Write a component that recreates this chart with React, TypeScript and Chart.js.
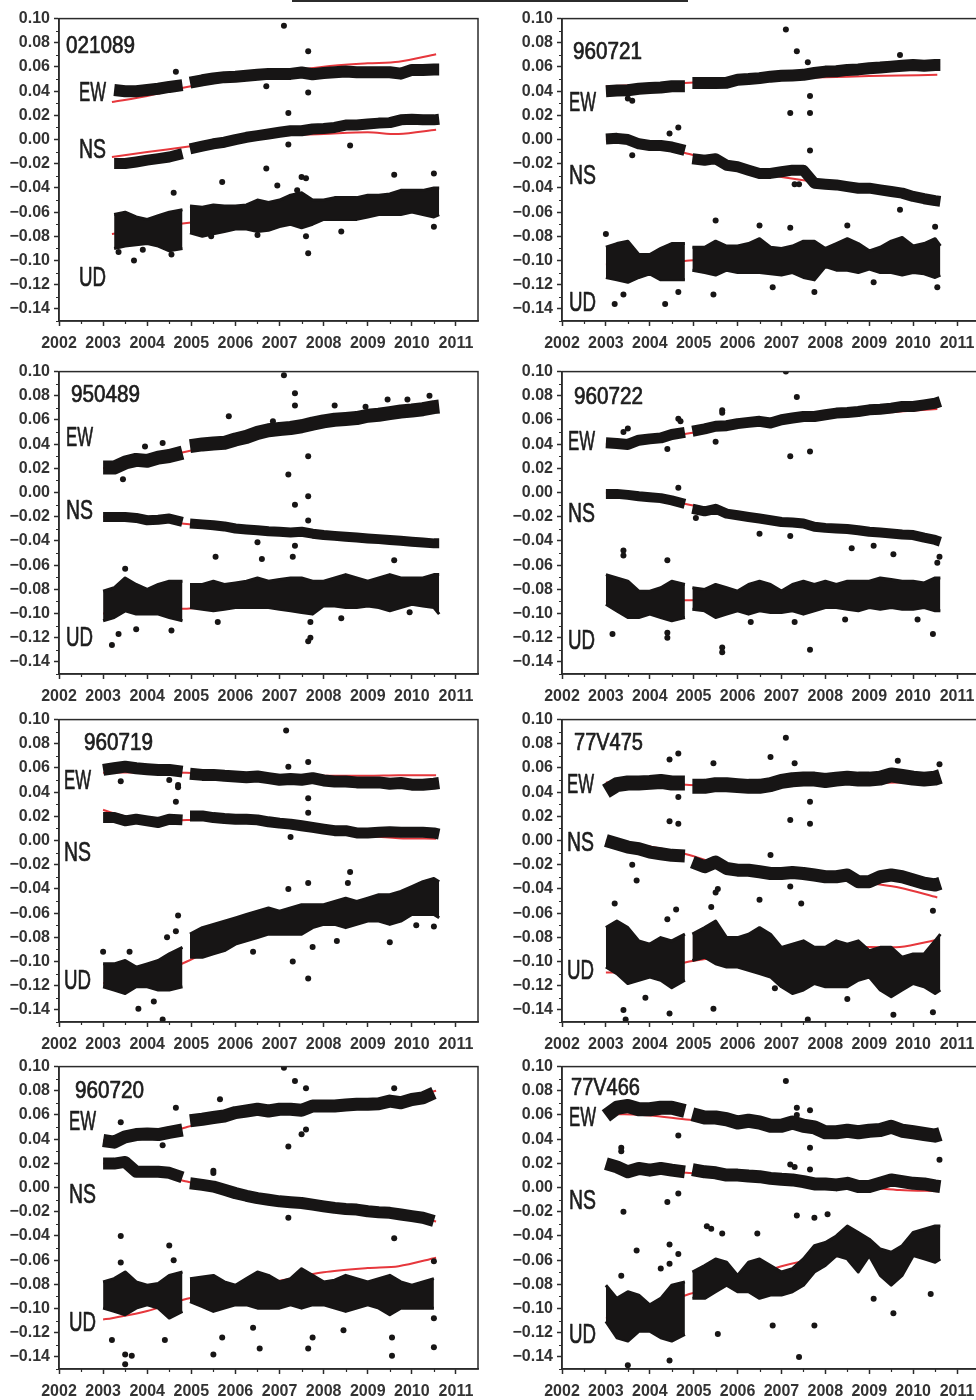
import React, { useEffect, useRef } from 'react';
import { Chart, registerables } from 'chart.js';

Chart.register(...registerables);

// ---------- shared sampling times (decimal years) ----------
const PRE_T = [2003.0, 2003.25, 2003.5, 2003.75, 2004.0, 2004.25, 2004.5, 2004.8];
const POST_T = [2004.97, 2005.25, 2005.5, 2005.75, 2006.0, 2006.25, 2006.5, 2006.75, 2007.0, 2007.25, 2007.5, 2007.75,
  2008.0, 2008.25, 2008.5, 2008.75, 2009.0, 2009.25, 2009.5, 2009.75, 2010.0, 2010.25, 2010.5, 2010.62];
const GAP_T = 2004.885;
const MODEL_T = [2003.0, 2003.2, 2004.0, 2004.9, 2006.0, 2007.0, 2008.0, 2009.0, 2009.7, 2010.55];
const X_TICKS = [2002, 2003, 2004, 2005, 2006, 2007, 2008, 2009, 2010, 2011];
const Y_TICKS = [-0.14, -0.12, -0.10, -0.08, -0.06, -0.04, -0.02, 0.0, 0.02, 0.04, 0.06, 0.08, 0.10];

// ---------- 021089 ----------
const P1_NAME = '021089';
const P1_EW = [null, .041, .040, .040, .041, .042, .0435, .045, .047, .049, .0505, .0516, .052, .0527, .0535, .0543, .0543, .0543, .0554, .054, .055, .0557, .0562, .0557, .0557, .0557, .0557, .0545, .0576, .0576, .058, .058];
const P1_NS = [null, -.0198, -.0198, -.0185, -.017, -.0158, -.0144, -.0117, -.0076, -.0054, -.0035, -.0022, 0, .0019, .0033, .0046, .006, .0073, .0073, .0087, .0092, .010, .012, .012, .0128, .0136, .014, .0163, .0168, .0163, .0163, .0168];
const P1_UD_HI = [null, -.062, -.060, -.064, -.066, -.063, -.060, -.058, -.055, -.056, -.054, -.055, -.055, -.054, -.050, -.052, -.050, -.046, -.044, -.050, -.050, -.048, -.048, -.048, -.046, -.046, -.045, -.042, -.042, -.042, -.040, -.040];
const P1_UD_LO = [null, -.090, -.088, -.087, -.086, -.088, -.092, -.090, -.077, -.080, -.078, -.076, -.074, -.074, -.076, -.075, -.072, -.070, -.073, -.070, -.066, -.066, -.066, -.066, -.064, -.062, -.062, -.062, -.060, -.062, -.064, -.062];
const P1_M_EW = [null, .031, .036, .0435, .0495, .0554, .0603, .063, .0644, .0706];
const P1_M_NS = [null, -.0144, -.0103, -.006, -.0008, .0033, .0046, .006, .0046, .0082];
const P1_M_UD = [null, -.078, -.074, -.069, -.065, -.060, -.057, -.053, -.051, -.048];
const P1_OUT = [[2007.1, .094], [2007.65, .073], [2007.65, .039], [2006.7, .044], [2007.2, .022], [2007.2, -.004], [2008.6, -.005], [2006.7, -.024], [2005.7, -.035], [2004.6, -.044], [2007.65, -.094], [2003.7, -.100], [2007.6, -.080], [2010.5, -.072], [2010.5, -.028], [2009.6, -.029], [2003.9, -.091], [2008.4, -.076], [2004.55, -.095], [2003.35, -.093], [2006.95, -.038], [2007.4, -.042], [2007.5, -.031], [2007.6, -.032], [2004.65, .056], [2005.45, -.080], [2006.5, -.079]];

// ---------- 960721 ----------
const P2_NAME = '960721';
const P2_EW = [.040, .0405, .0408, .042, .0427, .043, .044, .044, .0467, .0467, .0467, .047, .0495, .050, .0508, .052, .0527, .053, .0535, .055, .0562, .0565, .0576, .058, .059, .0595, .0603, .061, .0617, .061, .0617, .0617];
const P2_NS = [.0005, .001, 0, -.0035, -.0049, -.0049, -.0062, -.009, -.0158, -.0171, -.0158, -.0212, -.0225, -.0253, -.028, -.028, -.0266, -.0253, -.0253, -.0361, -.0369, -.0375, -.0389, -.0402, -.0402, -.0416, -.0429, -.0443, -.047, -.0489, -.0505, -.0511];
const P2_UD_HI = [-.089, -.086, -.084, -.095, -.095, -.090, -.086, -.086, -.089, -.089, -.084, -.088, -.088, -.086, -.082, -.089, -.090, -.088, -.084, -.084, -.090, -.086, -.082, -.086, -.092, -.089, -.084, -.081, -.088, -.086, -.082, -.088];
const P2_UD_LO = [-.114, -.116, -.118, -.114, -.111, -.116, -.116, -.116, -.108, -.110, -.112, -.108, -.110, -.110, -.110, -.111, -.112, -.110, -.114, -.116, -.105, -.108, -.108, -.110, -.107, -.110, -.110, -.112, -.110, -.111, -.114, -.112];
const P2_M_EW = [.044, .0443, .0455, .047, .049, .0505, .0515, .0525, .053, .0535];
const P2_M_NS = [0, -.0005, -.004, -.012, -.023, -.031, -.036, -.041, -.0445, -.050];
const P2_M_UD = [-.103, -.1032, -.104, -.100, -.097, -.095, -.094, -.093, -.091, -.087];
const P2_OUT = [[2007.1, .091], [2007.35, .073], [2007.6, .064], [2007.65, .036], [2007.2, .022], [2007.65, .022], [2007.65, -.009], [2003.6, .032], [2003.5, .034], [2004.65, .010], [2004.45, .005], [2003.6, -.013], [2009.7, .070], [2009.7, -.058], [2005.5, -.067], [2006.5, -.071], [2007.2, -.073], [2003.0, -.078], [2003.2, -.136], [2004.35, -.136], [2005.45, -.128], [2009.1, -.118], [2010.5, -.072], [2010.55, -.122], [2007.75, -.126], [2006.8, -.122], [2003.4, -.128], [2004.65, -.126], [2008.5, -.071], [2007.4, -.037], [2007.3, -.037]];

// ---------- 950489 ----------
const P3_NAME = '950489';
const P3_EW = [.0207, .0207, .0248, .027, .0262, .0289, .0302, .033, .0384, .0398, .0406, .0411, .0439, .046, .0493, .0515, .0526, .0534, .0548, .057, .0589, .0602, .0608, .0616, .0635, .0643, .0657, .067, .0678, .0689, .0706, .0711];
const P3_NS = [-.0202, -.0202, -.0202, -.021, -.0229, -.0225, -.0215, -.0243, -.0256, -.0263, -.027, -.028, -.0297, -.0305, -.0311, -.032, -.0324, -.033, -.0324, -.034, -.0351, -.0358, -.0365, -.0372, -.0379, -.0385, -.0392, -.0398, -.0406, -.0413, -.042, -.042];
const P3_UD_HI = [-.0815, -.0787, -.0706, -.076, -.0801, -.076, -.0733, -.0733, -.076, -.076, -.0733, -.076, -.0747, -.0733, -.0706, -.0733, -.0719, -.0706, -.0706, -.0733, -.0733, -.0706, -.0678, -.0706, -.0733, -.0706, -.0678, -.0706, -.0706, -.0706, -.0678, -.0678];
const P3_UD_LO = [-.106, -.1033, -.0978, -.1005, -.1005, -.1005, -.1033, -.106, -.0951, -.0965, -.0978, -.0965, -.0951, -.0951, -.0951, -.0951, -.0965, -.0978, -.0992, -.1005, -.0937, -.0937, -.0951, -.0951, -.0937, -.0951, -.0978, -.0951, -.0924, -.0937, -.0951, -.1005];
const P3_M_EW = [.020, .0215, .027, .034, .043, .051, .058, .063, .0665, .071];
const P3_M_NS = [-.020, -.0203, -.022, -.026, -.030, -.033, -.036, -.038, -.040, -.043];
const P3_M_UD = [-.100, -.0993, -.096, -.096, -.093, -.091, -.089, -.086, -.084, -.082];
const P3_OUT = [[2007.1, .097], [2007.35, .082], [2007.35, .072], [2007.2, .015], [2007.65, .030], [2007.35, -.010], [2007.65, -.003], [2007.65, -.023], [2005.85, .063], [2006.85, .059], [2009.45, .077], [2010.4, .080], [2003.45, .011], [2004.35, .041], [2003.95, .038], [2003.2, -.126], [2003.35, -.117], [2003.75, -.113], [2007.65, -.123], [2007.7, -.120], [2007.7, -.107], [2004.55, -.114], [2005.55, -.053], [2006.6, -.055], [2007.3, -.053], [2009.6, -.056], [2005.6, -.107], [2008.4, -.104], [2009.95, -.099], [2003.5, -.063], [2007.35, -.044], [2006.5, -.041], [2008.25, .072], [2008.95, .071], [2009.9, .077]];

// ---------- 960722 ----------
const P4_NAME = '960722';
const P4_EW = [.0411, .0406, .0398, .0433, .0444, .0452, .048, .0498, .0507, .0526, .0548, .0553, .057, .058, .0589, .0575, .0602, .0616, .0629, .0629, .0643, .0657, .0662, .067, .0684, .0689, .0698, .0711, .0711, .0725, .0738, .0752];
const P4_NS = [-.0011, -.0011, -.0019, -.003, -.0038, -.0046, -.0065, -.0093, -.0134, -.0155, -.0134, -.0174, -.0188, -.0202, -.0215, -.0229, -.0243, -.0248, -.0256, -.0283, -.0292, -.0297, -.0302, -.0311, -.0324, -.033, -.0338, -.0346, -.0351, -.0373, -.0392, -.0406];
const P4_UD_HI = [-.0678, -.0706, -.0733, -.0815, -.0815, -.0787, -.0733, -.076, -.0787, -.0801, -.076, -.0787, -.0815, -.076, -.0733, -.076, -.0815, -.076, -.0733, -.076, -.0733, -.076, -.0733, -.0733, -.0733, -.0706, -.0719, -.0733, -.0733, -.0747, -.0706, -.0706];
const P4_UD_LO = [-.0924, -.0978, -.1033, -.1033, -.1005, -.1033, -.106, -.1033, -.0965, -.0978, -.1033, -.1005, -.0978, -.1005, -.0978, -.0992, -.0992, -.0978, -.1005, -.0978, -.0951, -.0951, -.0965, -.0978, -.0951, -.0965, -.0951, -.0965, -.0965, -.0951, -.0978, -.0978];
const P4_M_EW = [.040, .0405, .044, .049, .056, .059, .063, .065, .067, .069];
const P4_M_NS = [0, -.0005, -.004, -.010, -.019, -.025, -.029, -.032, -.033, -.038];
const P4_M_UD = [-.090, -.0898, -.089, -.089, -.088, -.086, -.085, -.084, -.083, -.082];
const P4_OUT = [[2007.1, .100], [2007.35, .079], [2004.65, .061], [2004.7, .059], [2005.65, .066], [2005.65, .068], [2005.5, .042], [2003.5, .053], [2003.4, .050], [2004.4, .036], [2007.2, .030], [2007.65, .034], [2004.65, .004], [2005.05, -.021], [2006.5, -.034], [2007.2, -.036], [2008.6, -.046], [2009.1, -.044], [2009.55, -.051], [2010.6, -.053], [2010.55, -.058], [2003.4, -.048], [2003.4, -.052], [2004.4, -.056], [2004.4, -.116], [2004.4, -.120], [2003.15, -.117], [2005.65, -.128], [2005.65, -.132], [2007.65, -.130], [2010.45, -.117], [2010.1, -.105], [2008.45, -.105], [2006.3, -.107], [2007.3, -.107]];

// ---------- 960719 ----------
const P5_NAME = '960719';
const P5_EW = [.0584, .0598, .0611, .0598, .059, .0584, .0584, .057, .0552, .0543, .0543, .0535, .053, .0524, .053, .0516, .0503, .0508, .0503, .0516, .0497, .0489, .0489, .0481, .0481, .0481, .047, .0476, .0462, .0462, .047, .0476];
const P5_NS = [.019, .019, .0163, .0177, .0163, .0149, .0177, .0171, .0204, .0204, .019, .0182, .0177, .0177, .0171, .0155, .0144, .0136, .0122, .0109, .0095, .0082, .0082, .0063, .0063, .0068, .0073, .0068, .0068, .0068, .0063, .0054];
const P5_UD_HI = [-.1019, -.1019, -.0992, -.1046, -.1019, -.0992, -.0937, -.0883, -.0774, -.072, -.0693, -.0666, -.0639, -.0611, -.0584, -.0557, -.0584, -.0557, -.053, -.053, -.053, -.0503, -.0476, -.0503, -.0476, -.0448, -.0448, -.0421, -.038, -.034, -.0313, -.034];
const P5_UD_LO = [-.1209, -.1236, -.1264, -.1209, -.1209, -.1236, -.1236, -.1209, -.0965, -.0965, -.0937, -.091, -.0856, -.0829, -.0802, -.0774, -.0774, -.0774, -.0774, -.072, -.0693, -.0693, -.072, -.0693, -.0666, -.0666, -.0693, -.0666, -.0611, -.0611, -.0611, -.0639];
const P5_M_EW = [.056, .0562, .0565, .056, .054, .053, .0535, .0535, .054, .054];
const P5_M_NS = [.0255, .023, .016, .017, .0175, .013, .008, .004, .002, .0015];
const P5_M_UD = [-.118, -.117, -.113, -.100, -.080, -.070, -.060, -.054, -.050, -.045];
const P5_OUT = [[2007.15, .091], [2007.65, .065], [2007.2, .061], [2007.65, .035], [2007.65, .023], [2004.65, .032], [2004.7, .046], [2004.7, .044], [2004.5, .050], [2003.4, .049], [2007.25, .003], [2007.65, -.035], [2008.6, -.026], [2007.2, -.040], [2008.55, -.035], [2004.7, -.062], [2004.65, -.075], [2004.45, -.080], [2003.0, -.092], [2003.6, -.092], [2003.8, -.139], [2004.35, -.148], [2004.15, -.133], [2007.3, -.100], [2007.65, -.114], [2007.75, -.088], [2009.5, -.084], [2010.5, -.071], [2010.1, -.070], [2008.3, -.083], [2006.4, -.092]];

// ---------- 77V475 ----------
const P6_NAME = '77V475';
const P6_EW = [.0408, .0462, .0476, .0476, .0481, .0489, .0476, .0476, .0448, .0448, .0462, .0462, .0454, .0448, .0448, .0462, .0489, .0503, .0508, .0508, .0497, .0508, .0516, .0508, .0508, .0516, .0543, .053, .0516, .0508, .0516, .053];
const P6_NS = [0, -.0027, -.0054, -.0068, -.0095, -.0109, -.0122, -.0128, -.0177, -.0217, -.0177, -.0231, -.0245, -.0245, -.0258, -.0272, -.0272, -.0264, -.0272, -.0285, -.0299, -.0299, -.0285, -.034, -.034, -.0299, -.0285, -.0299, -.0326, -.0353, -.0367, -.0353];
const P6_UD_HI = [-.072, -.0666, -.072, -.0829, -.0856, -.0802, -.0829, -.0774, -.0774, -.072, -.0666, -.0802, -.0802, -.0774, -.072, -.0774, -.0883, -.0856, -.0829, -.0883, -.0883, -.0829, -.0856, -.0829, -.091, -.0883, -.0883, -.0965, -.0937, -.0937, -.0829, -.0774];
const P6_UD_LO = [-.1046, -.110, -.1182, -.1155, -.1128, -.1155, -.1217, -.1155, -.0992, -.0965, -.1019, -.1046, -.1046, -.1073, -.110, -.1128, -.1209, -.1264, -.1236, -.1182, -.1209, -.1209, -.1209, -.1155, -.1128, -.1236, -.1291, -.1236, -.1182, -.1209, -.1264, -.1236];
const P6_M_EW = [.048, .048, .048, .046, .045, .046, .047, .0475, .048, .049];
const P6_M_NS = [0, -.001, -.005, -.012, -.024, -.027, -.029, -.035, -.039, -.047];
const P6_M_UD = [-.109, -.109, -.108, -.100, -.095, -.091, -.089, -.088, -.088, -.082];
const P6_OUT = [[2007.1, .085], [2006.75, .069], [2004.65, .072], [2004.45, .067], [2005.45, .064], [2007.3, .064], [2009.65, .066], [2010.6, .063], [2004.45, .016], [2004.65, .014], [2004.65, .036], [2007.2, .017], [2007.65, .032], [2007.65, .014], [2006.75, -.012], [2003.7, -.033], [2003.6, -.020], [2007.2, -.038], [2007.45, -.052], [2005.55, -.040], [2005.5, -.043], [2003.2, -.052], [2004.4, -.065], [2004.6, -.057], [2005.4, -.055], [2006.5, -.049], [2010.45, -.058], [2003.4, -.140], [2003.45, -.148], [2004.45, -.143], [2005.45, -.139], [2007.6, -.148], [2009.55, -.144], [2010.45, -.142], [2003.9, -.130], [2006.85, -.122], [2008.5, -.131]];

// ---------- 960720 ----------
const P7_NAME = '960720';
const P7_EW = [.0389, .0375, .042, .0438, .0443, .0438, .0457, .0476, .0552, .0565, .0579, .0592, .062, .0633, .0647, .0633, .0647, .0647, .0639, .0674, .0674, .0674, .0682, .0688, .0688, .0693, .0715, .0701, .0728, .0742, .0783, null];
const P7_NS = [.0198, .0198, .0212, .013, .013, .013, .0122, .0084, .0035, .0022, .0008, -.0019, -.0046, -.0068, -.0087, -.0101, -.0114, -.0122, -.0128, -.0141, -.0155, -.0168, -.0177, -.0182, -.0196, -.0204, -.0209, -.0223, -.0236, -.025, -.0277, null];
const P7_UD_HI = [-.078, -.0753, -.0698, -.078, -.0807, -.0793, -.0726, -.0698, -.0753, -.0739, -.0726, -.078, -.0807, -.0753, -.0698, -.0726, -.078, -.0753, -.0671, -.0726, -.078, -.0766, -.0726, -.0753, -.078, -.0753, -.0726, -.078, -.0807, -.078, -.0753, null];
const P7_UD_LO = [-.0997, -.1024, -.1052, -.0997, -.097, -.0997, -.1079, -.1024, -.0943, -.0984, -.1024, -.0997, -.097, -.097, -.0997, -.0997, -.0997, -.097, -.0997, -.097, -.097, -.0997, -.1024, -.0997, -.097, -.0997, -.1052, -.0997, -.0997, -.0997, -.0997, null];
const P7_M_EW = [.039, .0395, .042, .050, .062, .066, .0685, .071, .072, .080];
const P7_M_NS = [.020, .019, .013, .005, -.005, -.012, -.016, -.020, -.022, -.028];
const P7_M_UD = [-.109, -.108, -.102, -.092, -.084, -.077, -.070, -.0665, -.065, -.058];
const P7_OUT = [[2007.1, .099], [2007.35, .088], [2007.6, .082], [2009.6, .082], [2005.65, .073], [2007.2, .034], [2007.5, .044], [2007.6, .048], [2004.65, .066], [2003.4, .054], [2004.35, .035], [2005.5, .012], [2005.5, .014], [2009.6, -.042], [2007.2, -.025], [2003.4, -.040], [2003.4, -.062], [2004.5, -.048], [2004.6, -.060], [2004.4, -.126], [2003.2, -.126], [2003.5, -.138], [2003.65, -.139], [2003.5, -.146], [2005.5, -.138], [2005.7, -.124], [2006.55, -.133], [2007.65, -.133], [2007.75, -.124], [2009.55, -.139], [2010.5, -.132], [2010.5, -.108], [2008.45, -.118], [2009.55, -.124], [2010.5, -.061], [2006.4, -.116]];

// ---------- 77V466 ----------
const P8_NAME = '77V466';
const P8_EW = [.0592, .066, .0674, .0647, .0647, .066, .066, .0633, .0606, .0579, .0579, .0565, .0538, .0552, .0538, .0511, .0511, .0538, .0511, .0497, .0457, .0457, .047, .0457, .047, .0476, .0503, .047, .0457, .0443, .0429, .0443];
const P8_NS = [.0198, .0171, .013, .0158, .0144, .0158, .0144, .013, .0149, .013, .0122, .0103, .0103, .0095, .009, .0076, .0068, .0063, .0049, .003, .003, .0022, .0035, .0008, .0008, .0035, .0063, .0049, .0035, .003, .0014, .0008];
const P8_UD_HI = [-.0807, -.0916, -.0861, -.0889, -.097, -.0916, -.0807, -.078, -.0698, -.0644, -.059, -.0617, -.0726, -.0617, -.059, -.0644, -.0698, -.0671, -.059, -.0481, -.0454, -.040, -.0318, -.0372, -.0427, -.0508, -.0535, -.0481, -.0372, -.0345, -.0318, -.0318];
const P8_UD_LO = [-.1106, -.1242, -.1269, -.1188, -.1188, -.1242, -.1269, -.1215, -.0916, -.0916, -.0861, -.0807, -.0861, -.0861, -.0916, -.0889, -.0889, -.0861, -.0807, -.0698, -.0644, -.0563, -.059, -.0698, -.0563, -.0726, -.0807, -.0726, -.0563, -.059, -.0617, -.059];
const P8_M_EW = [.061, .0608, .0595, .056, .053, .051, .048, .0465, .0455, .043];
const P8_M_NS = [.018, .017, .014, .012, .009, .006, .002, 0, -.002, -.003];
const P8_M_UD = [-.108, -.107, -.100, -.088, -.078, -.065, -.058, -.055, -.058, -.047];
const P8_OUT = [[2007.1, .088], [2007.35, .066], [2007.35, .060], [2007.65, .064], [2003.35, .033], [2003.35, .030], [2004.65, .043], [2007.65, .033], [2007.2, .019], [2007.3, .017], [2007.65, .015], [2004.4, -.012], [2004.65, -.005], [2003.4, -.020], [2010.6, .023], [2005.3, -.032], [2005.4, -.034], [2005.65, -.038], [2006.45, -.038], [2003.7, -.052], [2004.45, -.047], [2004.65, -.055], [2004.25, -.067], [2003.35, -.073], [2004.45, -.063], [2007.4, -.140], [2007.75, -.114], [2003.5, -.147], [2004.45, -.143], [2005.55, -.121], [2006.8, -.114], [2009.1, -.092], [2009.55, -.104], [2010.4, -.088], [2007.35, -.023], [2008.05, -.022], [2007.75, -.025]];

const PANELS = [
  { name: P1_NAME, ew: P1_EW, ns: P1_NS, udHi: P1_UD_HI, udLo: P1_UD_LO, mEw: P1_M_EW, mNs: P1_M_NS, mUd: P1_M_UD, out: P1_OUT },
  { name: P2_NAME, ew: P2_EW, ns: P2_NS, udHi: P2_UD_HI, udLo: P2_UD_LO, mEw: P2_M_EW, mNs: P2_M_NS, mUd: P2_M_UD, out: P2_OUT },
  { name: P3_NAME, ew: P3_EW, ns: P3_NS, udHi: P3_UD_HI, udLo: P3_UD_LO, mEw: P3_M_EW, mNs: P3_M_NS, mUd: P3_M_UD, out: P3_OUT },
  { name: P4_NAME, ew: P4_EW, ns: P4_NS, udHi: P4_UD_HI, udLo: P4_UD_LO, mEw: P4_M_EW, mNs: P4_M_NS, mUd: P4_M_UD, out: P4_OUT },
  { name: P5_NAME, ew: P5_EW, ns: P5_NS, udHi: P5_UD_HI, udLo: P5_UD_LO, mEw: P5_M_EW, mNs: P5_M_NS, mUd: P5_M_UD, out: P5_OUT },
  { name: P6_NAME, ew: P6_EW, ns: P6_NS, udHi: P6_UD_HI, udLo: P6_UD_LO, mEw: P6_M_EW, mNs: P6_M_NS, mUd: P6_M_UD, out: P6_OUT },
  { name: P7_NAME, ew: P7_EW, ns: P7_NS, udHi: P7_UD_HI, udLo: P7_UD_LO, mEw: P7_M_EW, mNs: P7_M_NS, mUd: P7_M_UD, out: P7_OUT },
  { name: P8_NAME, ew: P8_EW, ns: P8_NS, udHi: P8_UD_HI, udLo: P8_UD_LO, mEw: P8_M_EW, mNs: P8_M_NS, mUd: P8_M_UD, out: P8_OUT },
];

// ---------- layout / style (not data) ----------
const ROW_TOPS = [5, 358, 706, 1053];
const COLS = [
  { left: 0, width: 486, padRight: 8 },
  { left: 503, width: 482, padRight: 6 },
];
const BAND_WIDTHS = [[12, 11], [12, 11], [14, 10], [11, 10], [12, 11], [15, 13], [13, 12], [14, 13]];
// label offsets [dx, dy] from top-left of the plot area (baseline)
const LABEL_POS = [
  { st: [7, 34], ew: [20, 82], ns: [20, 139], ud: [20, 267] },
  { st: [11, 40], ew: [7, 92], ns: [7, 165], ud: [7, 292] },
  { st: [12, 30], ew: [7, 74], ns: [7, 147], ud: [7, 274] },
  { st: [12, 32], ew: [6, 78], ns: [6, 150], ud: [6, 277] },
  { st: [25, 30], ew: [5, 69], ns: [5, 141], ud: [5, 269] },
  { st: [12, 30], ew: [5, 73], ns: [5, 131], ud: [5, 259] },
  { st: [16, 31], ew: [10, 63], ns: [10, 136], ud: [10, 264] },
  { st: [9, 28], ew: [7, 59], ns: [7, 142], ud: [7, 276] },
];
const BLACK = '#171515';
const RED = '#e6373c';
const AXIS = '#2b2b2b';
const TEXT = '#1d1d1d';
const TICK_TEXT = '#333333';
const FONT = '"Liberation Sans", Arial, sans-serif';

function series(vals: (number | null)[]) {
  const pre = PRE_T.map((t, i) => ({ x: t, y: vals[i] }));
  const post = POST_T.map((t, i) => ({ x: t, y: vals[PRE_T.length + i] }));
  return [...pre, { x: GAP_T, y: null }, ...post];
}
function modelSeries(vals: (number | null)[]) {
  return MODEL_T.map((t, i) => ({ x: t, y: vals[i] }));
}

const framePlugin = {
  id: 'frameAndMinor',
  afterDraw(chart: any) {
    const { ctx, chartArea: a, scales } = chart;
    ctx.save();
    ctx.strokeStyle = AXIS;
    ctx.lineWidth = 1.5;
    ctx.strokeRect(a.left, a.top, a.right - a.left, a.bottom - a.top);
    ctx.lineWidth = 1.2;
    ctx.beginPath();
    for (let i = -15; i <= 9; i += 2) {
      const y = Math.round(scales.y.getPixelForValue(i / 100)) + 0.5;
      ctx.moveTo(a.left, y);
      ctx.lineTo(a.left - 3, y);
    }
    for (let yr = 2002; yr <= 2010; yr++) {
      const x = Math.round(scales.x.getPixelForValue(yr + 0.5)) + 0.5;
      ctx.moveTo(x, a.bottom);
      ctx.lineTo(x, a.bottom + 3);
    }
    ctx.stroke();
    ctx.restore();
  },
};

function drawFit(ctx: CanvasRenderingContext2D, text: string, x: number, y: number, size: number) {
  ctx.font = `${size}px ${FONT}`;
  const w = ctx.measureText(text).width;
  const target = text.length * 0.5 * size;
  ctx.save();
  ctx.translate(x, y);
  ctx.scale(target / w, 1);
  ctx.fillStyle = TEXT;
  ctx.strokeStyle = TEXT;
  ctx.lineWidth = 0.7;
  ctx.lineJoin = 'round';
  ctx.textBaseline = 'alphabetic';
  ctx.textAlign = 'left';
  ctx.fillText(text, 0, 0);
  ctx.strokeText(text, 0, 0);
  ctx.restore();
}

const labelPlugin = {
  id: 'panelLabels',
  afterDraw(chart: any, _args: any, opts: any) {
    const { ctx, chartArea: a } = chart;
    const p = opts.pos;
    drawFit(ctx, opts.name, a.left + p.st[0], a.top + p.st[1], 23);
    drawFit(ctx, 'EW', a.left + p.ew[0], a.top + p.ew[1], 27);
    drawFit(ctx, 'NS', a.left + p.ns[0], a.top + p.ns[1], 27);
    drawFit(ctx, 'UD', a.left + p.ud[0], a.top + p.ud[1], 27);
  },
};

function Panel({ index }: { index: number }) {
  const ref = useRef<HTMLCanvasElement | null>(null);
  const col = COLS[index % 2];
  const top = ROW_TOPS[Math.floor(index / 2)];
  const height = 356;
  useEffect(() => {
    const p = PANELS[index];
    const [ewW, nsW] = BAND_WIDTHS[index];
    const band = (label: string, vals: any, w: number) => ({
      label, data: series(vals), borderColor: BLACK, borderWidth: w, pointRadius: 0,
      fill: false, order: 1, borderJoinStyle: 'round', borderCapStyle: 'butt', tension: 0,
    });
    const model = (label: string, vals: any) => ({
      label, data: modelSeries(vals), borderColor: RED, borderWidth: 2, pointRadius: 0,
      fill: false, order: 2, tension: 0.3,
    });
    const tickFont = { family: FONT, size: 16, weight: 'bold' as const };
    const chart = new Chart(ref.current as HTMLCanvasElement, {
      type: 'line',
      data: {
        datasets: [
          { label: 'outliers', data: p.out.map(([x, y]) => ({ x, y })), showLine: false, pointRadius: 3,
            pointBackgroundColor: BLACK, pointBorderWidth: 0, order: 0 } as any,
          band('EW', p.ew, ewW),
          band('NS', p.ns, nsW),
          { label: 'UD upper', data: series(p.udHi), borderColor: BLACK, backgroundColor: BLACK, borderWidth: 3,
            pointRadius: 0, fill: '+1', order: 1, borderJoinStyle: 'round', tension: 0 },
          { label: 'UD lower', data: series(p.udLo), borderColor: BLACK, borderWidth: 3,
            pointRadius: 0, fill: false, order: 1, borderJoinStyle: 'round', tension: 0 },
          model('EW model', p.mEw),
          model('NS model', p.mNs),
          model('UD model', p.mUd),
        ] as any,
      },
      options: {
        responsive: false,
        maintainAspectRatio: false,
        animation: false,
        events: [],
        layout: { padding: { top: 10, right: col.padRight, left: 0, bottom: 0 } },
        plugins: {
          legend: { display: false },
          tooltip: { enabled: false },
          panelLabels: { name: p.name, pos: LABEL_POS[index] },
        } as any,
        scales: {
          x: {
            type: 'linear', min: 2002, max: 2011.5,
            afterBuildTicks: (s: any) => { s.ticks = X_TICKS.map((v) => ({ value: v })); },
            afterFit: (s: any) => { s.height = 40; },
            ticks: { autoSkip: false, maxRotation: 0, padding: 8, color: TICK_TEXT,
              font: tickFont, callback: (v: any) => String(v) },
            grid: { drawOnChartArea: false, drawTicks: true, tickLength: 5, tickColor: AXIS, tickWidth: 1.5 },
            border: { display: true, color: AXIS, width: 1.5 },
          },
          y: {
            type: 'linear', min: -0.15, max: 0.10,
            afterBuildTicks: (s: any) => { s.ticks = Y_TICKS.map((v) => ({ value: v })); },
            afterFit: (s: any) => { s.width = 59; },
            ticks: { autoSkip: false, padding: 4, color: TICK_TEXT, font: tickFont,
              callback: (v: any) => { const s = Math.abs(v).toFixed(2); return v < -1e-9 ? '\u2212' + s : s; } },
            grid: { drawOnChartArea: false, drawTicks: true, tickLength: 5, tickColor: AXIS, tickWidth: 1.5 },
            border: { display: true, color: AXIS, width: 1.5 },
          },
        } as any,
      },
      plugins: [framePlugin, labelPlugin],
    });
    return () => chart.destroy();
  }, [index]);
  return (
    <div style={{ position: 'absolute', left: col.left, top, width: col.width, height }}>
      <canvas ref={ref} width={col.width} height={height} style={{ display: 'block' }} />
    </div>
  );
}

export default function App() {
  return (
    <div style={{ position: 'absolute', left: 0, top: 0, width: 976, height: 1400, overflow: 'hidden', background: '#fff' }}>
      <div style={{ position: 'absolute', left: 292, top: 0, width: 396, height: 2, background: AXIS }} />
      {PANELS.map((_, i) => <Panel key={i} index={i} />)}
    </div>
  );
}
